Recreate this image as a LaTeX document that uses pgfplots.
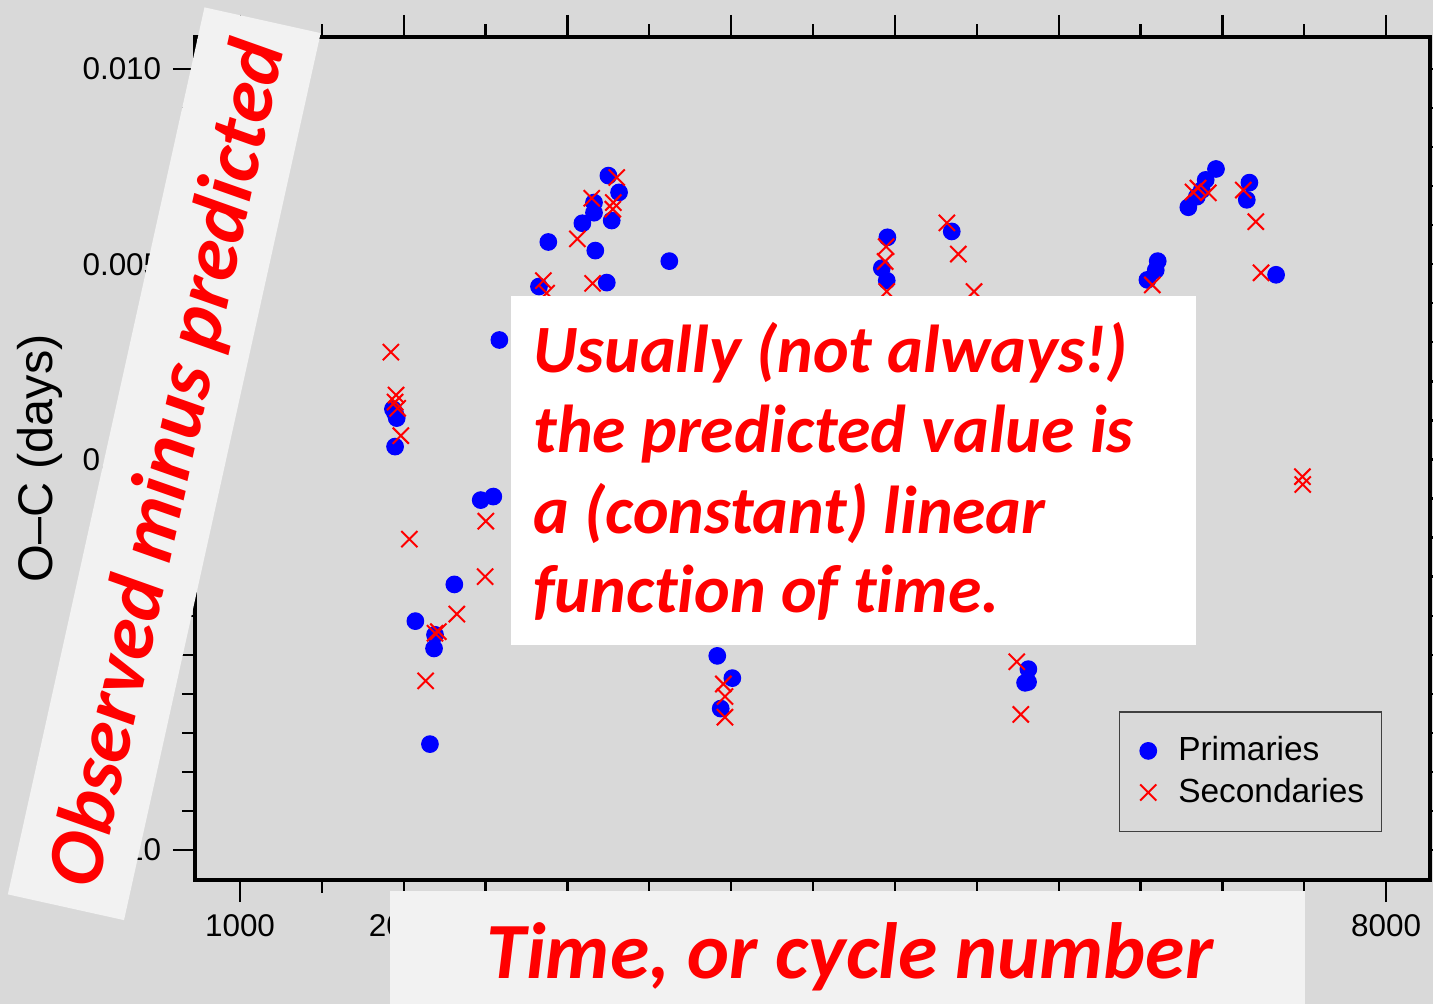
\documentclass[border=0pt]{standalone}
\usepackage{fontspec}
\setmainfont{Liberation Sans}
\newfontfamily\calib[Ligatures={NoCommon,NoContextual},Contextuals={NoAlternate}]{Carlito}
\usepackage{pgfplots}
\pgfplotsset{compat=1.18}
\definecolor{bggray}{HTML}{D9D9D9}
\definecolor{boxgray}{HTML}{F2F2F2}
\definecolor{ocblue}{RGB}{0,0,255}
\definecolor{ocred}{RGB}{255,0,0}

\begin{document}
\begin{tikzpicture}[x=0.35pt,y=-0.35pt]
\fill[bggray] (0,0) rectangle (1433,1004);
\useasboundingbox (0,0) rectangle (1433,1004);
\begin{axis}[
  at={(68.25pt,-308pt)}, anchor=south west,
  scale only axis, width=432.25pt, height=295.05pt,
  xmin=725, xmax=8268, ymin=-0.01077, ymax=0.01082,
  axis background/.style={fill=bggray},
  axis line style={line width=1.1pt},
  tick style={line width=0.8pt, black},
  tick align=outside,
  major tick length=7.7pt, minor tick length=4.5pt,
  xtick={1000,2000,3000,4000,5000,6000,7000,8000},
  % labels 3000-7000 sit under the slide's caption box
  xticklabels={1000,2000,,,,,,8000},
  minor x tick num=1,
  ytick={-0.01,-0.005,0,0.005,0.01},
  yticklabels={−0.010,,0.000,0.005,0.010},
  minor y tick num=4,
  scaled ticks=false,
  ticklabel style={font=\fontsize{11}{13}\selectfont},
  xticklabel style={yshift=-1pt},
  yticklabel style={xshift=-0.6pt},
  ylabel={O–C (days)},
  ylabel style={at={(axis description cs:-0.1255,0.5)}, anchor=center,
    font=\fontsize{17}{19}\selectfont},
  legend style={at={(0.961,0.057)}, anchor=south east, draw=black!75,
    fill=bggray, font=\fontsize{11.7}{13}\selectfont,
    inner xsep=4pt, inner ysep=6.6pt, row sep=0.6pt},
  legend cell align=left,
  legend image code/.code={%
    \path[draw=none, fill=none] (-6.2pt,0pt) -- (8.5pt,0pt);
    \draw[#1, mark repeat=1] plot coordinates {(0pt,0pt)};},
]
\addplot[only marks, mark=*, mark size=2.9pt, color=ocblue] table {
x y
2584 0.00306
1934 0.00129
1947 0.00119
1957 0.00106
1947 0.00033
2470 -0.00104
2547 -0.00095
2309 -0.00320
2071 -0.00414
2191 -0.00449
2185 -0.00484
2160 -0.00729
3250 0.00727
3315 0.00684
3162 0.00658
3162 0.00632
3091 0.00605
3270 0.00612
2883 0.00557
3170 0.00535
3622 0.00508
3240 0.00453
2826 0.00443
3915 -0.00503
4007 -0.00560
3936 -0.00638
4954 0.00569
4920 0.00490
4950 0.00458
5347 0.00584
5815 -0.00537
5795 -0.00572
5813 -0.00570
6961 0.00744
6898 0.00716
6874 0.00690
6844 0.00673
6792 0.00646
7165 0.00709
7149 0.00665
6605 0.00508
6593 0.00485
6542 0.00460
7328 0.00473
};
\addlegendentry{Primaries}
\addplot[only marks, mark=x, mark size=4pt, color=ocred, line width=0.7pt] table {
x y
1921 0.00275
1953 0.00165
1947 0.00147
1963 0.00131
1982 0.00061
2034 -0.00204
2501 -0.00158
2497 -0.00300
2324 -0.00396
2211 -0.00441
2191 -0.00445
2134 -0.00567
3301 0.00722
3148 0.00669
3280 0.00658
3277 0.00641
3060 0.00565
2853 0.00458
3154 0.00451
2873 0.00426
3952 -0.00575
3962 -0.00607
3962 -0.00660
4946 0.00545
4940 0.00507
4950 0.00430
5317 0.00606
5387 0.00526
5483 0.00430
5744 -0.00518
5769 -0.00653
6821 0.00685
6851 0.00695
6914 0.00683
7128 0.00690
7204 0.00609
6572 0.00447
7236 0.00478
7489 -0.00044
7491 -0.00064
};
\addlegendentry{Secondaries}
\end{axis}
% slide overlays
\node[fill=boxgray, rotate=77.5, minimum width=318pt, minimum height=41.65pt,
  inner sep=0pt] at (164.25,463.75) {};
\node[rotate=77.5, inner sep=0pt, text=ocred,
  font=\calib\bfseries\itshape\fontsize{28}{30}\selectfont]
  at (170,464) {Observed minus predicted};
\fill[boxgray] (390,891) rectangle (1305,1004);
\node[anchor=base, text=ocred, inner sep=0pt,
  font=\calib\bfseries\itshape\fontsize{27.9}{30}\selectfont]
  at (850,978) {Time, or cycle number};
\fill[white] (511,296) rectangle (1196,645);
\begin{scope}[every node/.style={anchor=base west, inner sep=0pt, text=ocred,
    font=\calib\bfseries\itshape\fontsize{23.7}{28}\selectfont}]
\node at (533,372) {Usually (not always!)};
\node at (533,452) {the predicted value is};
\node at (533,533) {a (constant) linear};
\node at (533,612) {function of time.};
\end{scope}
\end{tikzpicture}
\end{document}
